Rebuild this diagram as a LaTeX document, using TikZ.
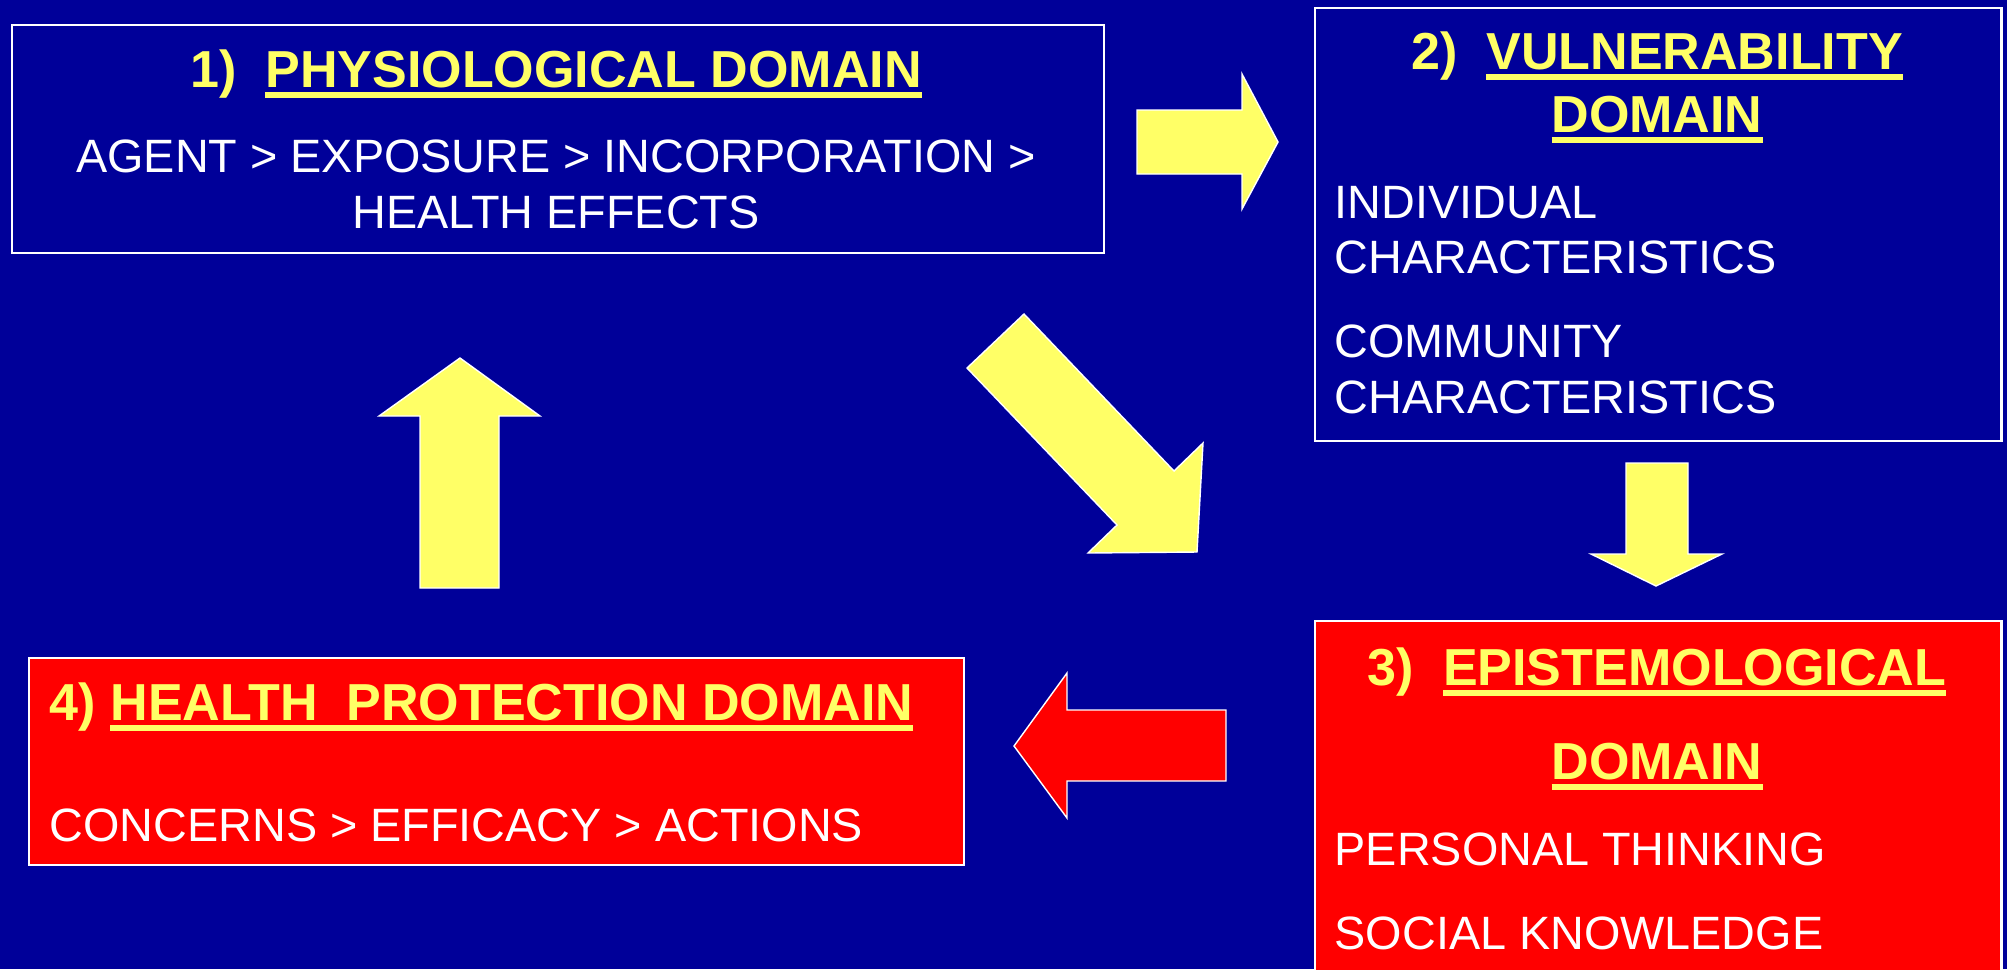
\documentclass[tikz,border=0pt]{standalone}
\usepackage{fontspec}
\setmainfont{Liberation Sans}
\usepackage{xcolor}
\usepackage{tikz}
\definecolor{HPBlue}{HTML}{000099}
\definecolor{HPRed}{HTML}{FF0000}
\definecolor{HPYellow}{HTML}{FFFF66}
\newcommand\domline[1]{\setbox0\hbox{#1}\rlap{\rule[-0.105cm]{\wd0}{0.055cm}}\box0}
\tikzset{
  domainbox/.style={draw=white,line width=0.6pt,anchor=north west,inner sep=0pt},
  titletext/.style={anchor=base,inner sep=0pt,text=HPYellow,font=\fontsize{14.8pt}{17pt}\selectfont\bfseries},
  bodytext/.style={anchor=base,inner sep=0pt,text=white,font=\fontsize{13.3pt}{16pt}\selectfont},
  blockarrow/.style={draw=white,line width=0.4pt,fill=HPYellow}
}

\begin{document}
\begin{tikzpicture}[x=0.01cm,y=-0.01cm]
\path[use as bounding box] (0,0) rectangle (2007,969);
\fill[HPBlue] (0,0) rectangle (2007,969);
% the four domain boxes
\node[domainbox,fill=HPBlue,minimum width=10.91cm,minimum height=2.28cm] (physio) at (11,24) {};
\node[domainbox,fill=HPBlue,minimum width=6.86cm,minimum height=4.33cm] (vulner) at (1314,7) {};
\node[domainbox,fill=HPRed,minimum width=6.86cm,minimum height=3.70cm] (episte) at (1314,620) {};
\node[domainbox,fill=HPRed,minimum width=9.34cm,minimum height=2.07cm] (protect) at (28,657) {};
% 1) physiological
\node[titletext] (physio-t) at (556,87) {1)~~\domline{PHYSIOLOGICAL DOMAIN}};
\node[bodytext] (physio-a) at (556,172) {AGENT > EXPOSURE > INCORPORATION >};
\node[bodytext] (physio-b) at (556,228) {HEALTH EFFECTS};
% 2) vulnerability
\node[titletext] (vulner-t) at (1657,69) {2)~~\domline{VULNERABILITY}};
\node[titletext] (vulner-d) at (1657,132) {\domline{DOMAIN}};
\node[bodytext,anchor=base west] (vulner-a) at (1334,218) {INDIVIDUAL};
\node[bodytext,anchor=base west] (vulner-b) at (1334,273) {CHARACTERISTICS};
\node[bodytext,anchor=base west] (vulner-c) at (1334,357) {COMMUNITY};
\node[bodytext,anchor=base west] (vulner-e) at (1334,413) {CHARACTERISTICS};
% 3) epistemological
\node[titletext] (episte-t) at (1657,685) {3)~~\domline{EPISTEMOLOGICAL}};
\node[titletext] (episte-d) at (1657,779) {\domline{DOMAIN}};
\node[bodytext,anchor=base west] (episte-a) at (1334,865) {PERSONAL THINKING};
\node[bodytext,anchor=base west] (episte-b) at (1334,949) {SOCIAL KNOWLEDGE};
% 4) health protection
\node[titletext,anchor=base west] (protect-t) at (49,720) {4) \domline{HEALTH~~PROTECTION DOMAIN}};
\node[bodytext,anchor=base west] (protect-a) at (49,841) {CONCERNS > EFFICACY > ACTIONS};
% block arrows
\draw[blockarrow] (1137,110) -- (1242,110) -- (1242,74) -- (1278,142) -- (1242,209) -- (1242,174) -- (1137,174) -- cycle;
\draw[blockarrow] (967,368) -- (1024,314) -- (1174,471) -- (1203,443) -- (1197,552) -- (1088,553) -- (1117,525) -- cycle;
\draw[blockarrow] (1626,463) -- (1688,463) -- (1688,554) -- (1722,554) -- (1656,586) -- (1591,554) -- (1626,554) -- cycle;
\draw[blockarrow,fill=HPRed] (1226,710) -- (1067,710) -- (1067,673) -- (1014,746) -- (1067,818) -- (1067,781) -- (1226,781) -- cycle;
\draw[blockarrow] (420,588) -- (420,416) -- (379,416) -- (460,358) -- (540,416) -- (499,416) -- (499,588) -- cycle;
\end{tikzpicture}
\end{document}
